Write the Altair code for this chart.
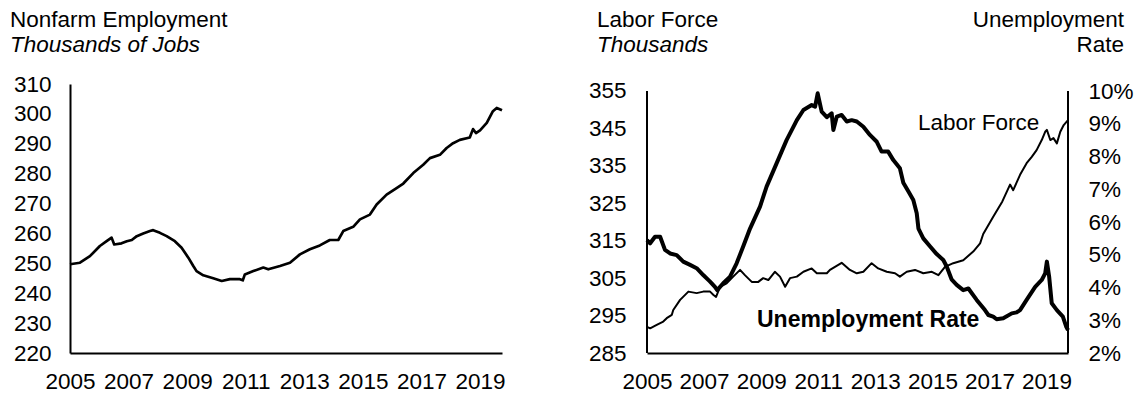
import altair as alt
import pandas as pd

FONT = "Liberation Sans"
INK = "#000000"
TICK_SIZE = 22.5
TITLE_SIZE = 22.5

# Year ticks shared by both panels
year_ticks = [2005, 2007, 2009, 2011, 2013, 2015, 2017, 2019]

# Nonfarm employment, thousands of jobs
nf_year = [2005.00, 2005.34, 2005.68, 2006.02, 2006.25, 2006.42, 2006.51, 2006.76, 2006.94,
           2007.11, 2007.28, 2007.50, 2007.73, 2007.84, 2008.07, 2008.30, 2008.58, 2008.81,
           2009.04, 2009.21, 2009.32, 2009.55, 2009.89, 2010.18, 2010.46, 2010.80, 2010.90,
           2010.97, 2011.26, 2011.60, 2011.77, 2012.17, 2012.51, 2012.85, 2013.19, 2013.53,
           2013.87, 2014.16, 2014.33, 2014.67, 2014.90, 2015.24, 2015.47, 2015.81, 2016.15,
           2016.38, 2016.72, 2017.06, 2017.29, 2017.63, 2017.86, 2018.08, 2018.31, 2018.65,
           2018.76, 2018.86, 2019.00, 2019.23, 2019.44, 2019.57, 2019.75]
nf_jobs = [249.7, 250.2, 252.4, 255.8, 257.4, 258.6, 256.3, 256.7, 257.4,
           257.8, 259.1, 260.0, 260.8, 261.1, 260.2, 259.1, 257.4, 255.2,
           251.9, 249.1, 247.4, 246.0, 245.0, 244.1, 244.7, 244.7, 244.3,
           246.3, 247.4, 248.6, 248.0, 249.1, 250.2, 253.0, 254.7, 256.0,
           257.8, 257.8, 260.8, 262.2, 264.7, 266.3, 269.7, 273.0, 275.2,
           276.7, 280.2, 283.0, 285.2, 286.3, 288.6, 290.2, 291.3, 292.1,
           294.9, 293.6, 294.5, 297.0, 300.9, 302.0, 301.2]

# Labor force, thousands
lf_year = [2005.00, 2005.11, 2005.34, 2005.57, 2005.69, 2005.87, 2005.92, 2006.16, 2006.45,
           2006.74, 2006.97, 2007.21, 2007.33, 2007.42, 2007.56, 2007.79, 2008.02, 2008.26,
           2008.43, 2008.67, 2008.90, 2009.07, 2009.25, 2009.48, 2009.66, 2009.84, 2010.01,
           2010.25, 2010.48, 2010.77, 2010.95, 2011.30, 2011.41, 2011.82, 2012.11, 2012.35,
           2012.58, 2012.87, 2013.10, 2013.40, 2013.69, 2013.86, 2014.10, 2014.39, 2014.68,
           2014.98, 2015.21, 2015.44, 2015.73, 2016.08, 2016.43, 2016.67, 2016.78, 2017.13,
           2017.45, 2017.72, 2017.83, 2018.07, 2018.30, 2018.48, 2018.65, 2018.83, 2018.95,
           2019.01, 2019.13, 2019.24, 2019.36, 2019.48, 2019.60, 2019.75]
lf_thousands = [292.0, 291.6, 292.5, 293.4, 294.3, 295.2, 296.5, 299.2, 301.4,
                301.0, 301.4, 301.4, 300.5, 300.0, 302.7, 303.6, 305.4, 307.2,
                305.8, 304.0, 304.0, 305.0, 304.5, 306.7, 305.4, 302.7, 305.0,
                305.4, 306.7, 307.6, 306.3, 306.3, 307.2, 309.1, 307.2, 306.3,
                306.7, 309.0, 307.6, 306.7, 306.3, 305.4, 306.7, 307.2, 306.3,
                306.7, 305.8, 308.0, 309.0, 309.8, 312.1, 314.3, 316.8, 321.4,
                325.5, 330.0, 328.5, 332.6, 335.7, 337.4, 339.2, 341.9, 344.1,
                344.6, 341.9, 342.4, 341.0, 344.1, 345.9, 347.2]

# Unemployment rate, percent
ur_year = [2005.00, 2005.11, 2005.28, 2005.46, 2005.63, 2005.81, 2006.04, 2006.27, 2006.51,
           2006.74, 2006.97, 2007.21, 2007.38, 2007.46, 2007.67, 2007.91, 2008.14, 2008.37,
           2008.61, 2008.96, 2009.19, 2009.54, 2009.89, 2010.25, 2010.48, 2010.77, 2010.89,
           2010.98, 2011.12, 2011.30, 2011.47, 2011.53, 2011.65, 2011.82, 2012.00, 2012.17,
           2012.35, 2012.58, 2012.81, 2013.05, 2013.22, 2013.45, 2013.63, 2013.86, 2013.98,
           2014.16, 2014.33, 2014.45, 2014.51, 2014.68, 2014.92, 2015.15, 2015.38, 2015.50,
           2015.67, 2015.85, 2016.08, 2016.26, 2016.55, 2016.84, 2016.96, 2017.13, 2017.25,
           2017.48, 2017.78, 2017.95, 2018.07, 2018.30, 2018.60, 2018.83, 2018.95, 2019.01,
           2019.09, 2019.18, 2019.36, 2019.57, 2019.69, 2019.75]
ur_rate = [5.45, 5.35, 5.55, 5.55, 5.15, 5.04, 4.99, 4.79, 4.69,
           4.59, 4.38, 4.18, 4.02, 3.92, 4.13, 4.33, 4.74, 5.25,
           5.80, 6.47, 7.08, 7.79, 8.50, 9.11, 9.42, 9.57, 9.52,
           9.93, 9.37, 9.20, 9.32, 8.81, 9.22, 9.27, 9.07, 9.11,
           9.07, 8.91, 8.66, 8.45, 8.15, 8.15, 7.89, 7.64, 7.20,
           6.93, 6.67, 6.27, 5.80, 5.50, 5.25, 5.02, 4.84, 4.64,
           4.25, 4.08, 3.92, 3.97, 3.62, 3.31, 3.16, 3.11, 3.03,
           3.06, 3.21, 3.24, 3.31, 3.62, 4.02, 4.23, 4.43, 4.79,
           4.33, 3.52, 3.31, 3.11, 2.80, 2.70]

nf_ticks = list(range(220, 320, 10))
lf_ticks = list(range(285, 365, 10))
ur_ticks = list(range(2, 11))

X_DOMAIN = [2005, 2019.75]
PLOT_H = 269
LEFT_W = 432
RIGHT_W = 421


def year_axis():
    return alt.Axis(values=year_ticks, format="d", title=None, grid=False,
                    ticks=False, tickSize=0, labelPadding=17, labelFlush=False,
                    labelOverlap=False, labelFont=FONT, labelFontSize=TICK_SIZE,
                    labelColor=INK, domainColor=INK, domainWidth=2)


def value_axis(values, **kw):
    return alt.Axis(values=values, title=None, grid=False, ticks=False, tickSize=0,
                    labelOverlap=False, labelFlush=False, labelFont=FONT,
                    labelFontSize=TICK_SIZE, labelColor=INK, **kw)


def note(df, text, x, y, size=TITLE_SIZE, style="normal", weight="normal", align="left"):
    return alt.Chart(df).mark_text(
        text=text, font=FONT, fontSize=size, fontStyle=style, fontWeight=weight,
        align=align, baseline="alphabetic", color=INK,
    ).encode(x=alt.value(x), y=alt.value(y))


one = pd.DataFrame({"k": [0]})

# ---- Left panel: nonfarm employment ----
nf = pd.DataFrame({"year": nf_year, "jobs": nf_jobs})
nf_line = alt.Chart(nf).mark_line(color=INK, strokeWidth=2.7, strokeJoin="round").encode(
    x=alt.X("year:Q", scale=alt.Scale(domain=X_DOMAIN, nice=False, zero=False), axis=year_axis()),
    y=alt.Y("jobs:Q", scale=alt.Scale(domain=[220, 310], nice=False, zero=False),
            axis=value_axis(nf_ticks, labelPadding=19, domainColor=INK, domainWidth=2)),
)
left = alt.layer(
    nf_line,
    note(one, "Nonfarm Employment", -60, -57),
    note(one, "Thousands of Jobs", -60, -32, style="italic"),
).properties(width=LEFT_W, height=PLOT_H)

# ---- Right panel: labor force and unemployment rate ----
lf = pd.DataFrame({"year": lf_year, "force": lf_thousands})
ur = pd.DataFrame({"year": ur_year, "rate": ur_rate})
x_shared = alt.X("year:Q", scale=alt.Scale(domain=X_DOMAIN, nice=False, zero=False), axis=year_axis())

LF_DOMAIN = [285, 356.87]
UR_DOMAIN = [2, 10.214]

lf_line = alt.Chart(lf).mark_line(color=INK, strokeWidth=2, strokeJoin="round").encode(
    x=x_shared,
    y=alt.Y("force:Q", scale=alt.Scale(domain=LF_DOMAIN, nice=False, zero=False),
            axis=value_axis(lf_ticks, orient="left", domain=False, labelPadding=21)),
)
ur_line = alt.Chart(ur).mark_line(color=INK, strokeWidth=4, strokeJoin="round").encode(
    x=x_shared,
    y=alt.Y("rate:Q", scale=alt.Scale(domain=UR_DOMAIN, nice=False, zero=False),
            axis=value_axis(ur_ticks, orient="right", format="d",
                            labelExpr="datum.label + '%'", domain=False, labelPadding=20)),
)
# vertical axis lines, spanning the labelled range of each scale
lf_edge = alt.Chart(one).mark_rule(color=INK, strokeWidth=2).encode(
    x=alt.value(0),
    y=alt.YDatum(285, scale=alt.Scale(domain=LF_DOMAIN, nice=False, zero=False), axis=None),
    y2=alt.Y2Datum(355),
)
ur_edge = alt.Chart(one).mark_rule(color=INK, strokeWidth=2).encode(
    x=alt.value(RIGHT_W),
    y=alt.YDatum(2, scale=alt.Scale(domain=UR_DOMAIN, nice=False, zero=False), axis=None),
    y2=alt.Y2Datum(10),
)

right = alt.layer(
    lf_line,
    ur_line,
    lf_edge,
    ur_edge,
    note(one, "Labor Force", 271, 46),
    note(one, "Unemployment Rate", 110, 243, size=23, weight="bold"),
    note(one, "Labor Force", -50, -57),
    note(one, "Thousands", -50, -32, style="italic"),
    note(one, "Unemployment", RIGHT_W + 56, -57, align="right"),
    note(one, "Rate", RIGHT_W + 56, -32, align="right"),
).resolve_scale(y="independent").properties(width=RIGHT_W, height=PLOT_H)

chart = alt.hconcat(left, right, spacing=145, bounds="flush").properties(
    padding={"left": 10, "top": 9, "right": 5, "bottom": 4},
    background="white",
).configure_view(stroke=None)

chart.save("out.html", embed_options={"renderer": "svg", "actions": False})
